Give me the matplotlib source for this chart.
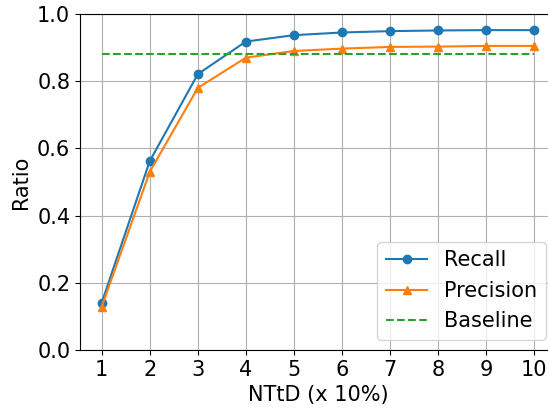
import matplotlib
matplotlib.use("Agg")
import matplotlib.pyplot as plt

ntd = [1, 2, 3, 4, 5, 6, 7, 8, 9, 10]
recall = [0.140, 0.562, 0.821, 0.918, 0.937, 0.945, 0.949, 0.951, 0.952, 0.952]
precision = [0.128, 0.530, 0.780, 0.870, 0.890, 0.897, 0.902, 0.903, 0.905, 0.905]
baseline = 0.881

plt.rcParams['font.size'] = 15

fig = plt.figure(figsize=(5.48, 4.09), dpi=100)
ax = fig.add_axes([80 / 548, 59 / 409, 476 / 548, 336 / 409])

ax.plot(ntd, recall, marker='o', label='Recall')
ax.plot(ntd, precision, marker='^', label='Precision')
ax.plot(ntd, [baseline] * len(ntd), '--', label='Baseline')

ax.set_xlim(0.55, 10.45)
ax.set_ylim(0, 1.0)
ax.set_xticks(ntd)
ax.grid(True)
ax.set_xlabel('NTtD (x 10%)')
ax.set_ylabel('Ratio')
ax.legend(loc='lower right')

fig.savefig('out.png')
